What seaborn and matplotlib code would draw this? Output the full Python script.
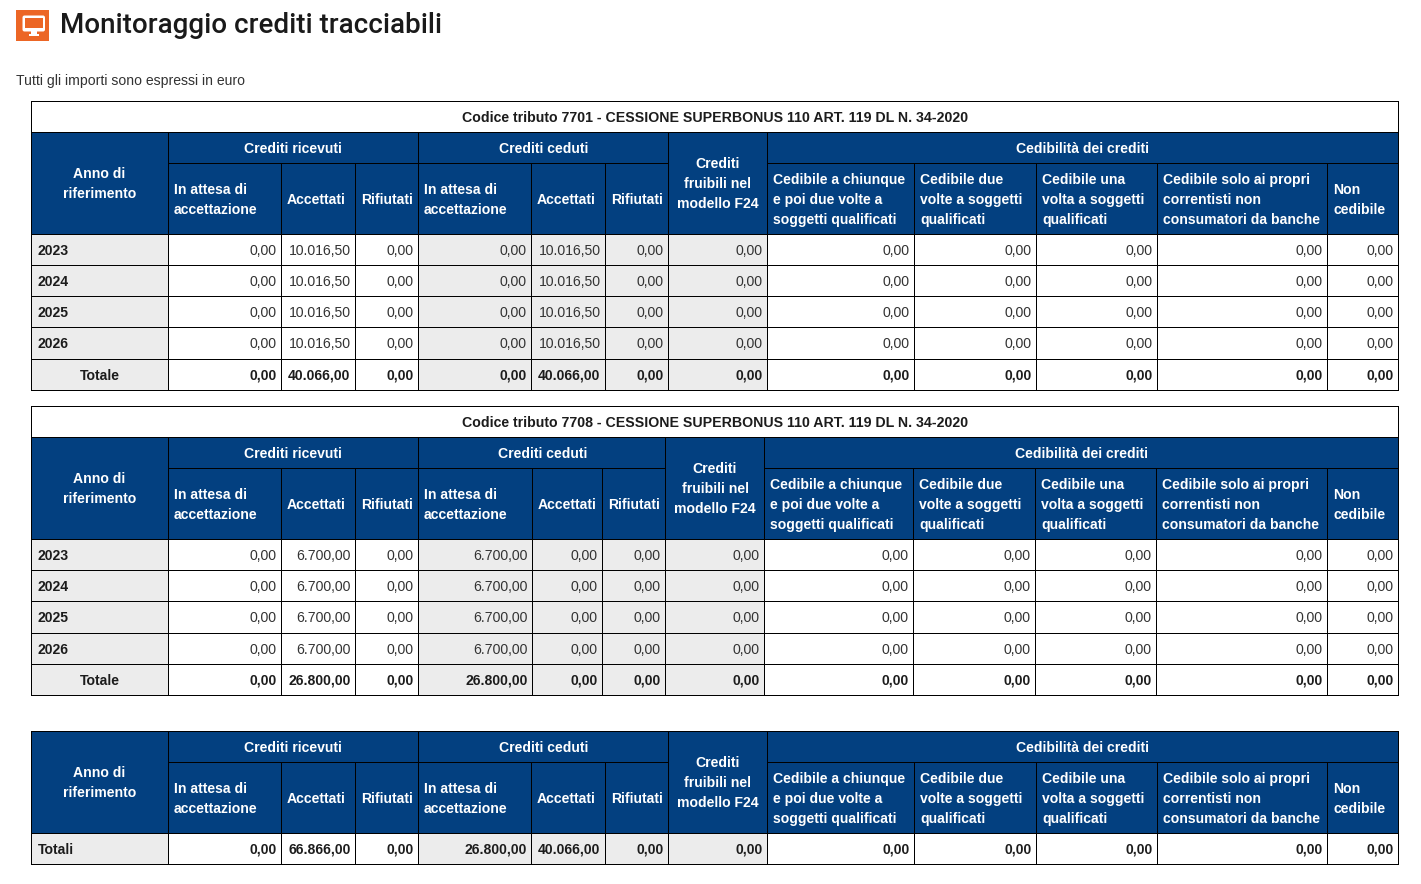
import numpy as np
import matplotlib
matplotlib.use("Agg")
import matplotlib.pyplot as plt
from matplotlib.patches import Rectangle, FancyBboxPatch
import seaborn as sns

W, H = 1421, 884
BLU = "#034080"
GRIGIO = "#ececec"
BIANCO = "#ffffff"
TESTO = "#333333"
BOLD = "#1c1c1c"

# dati
anni = ["2023", "2024", "2025", "2026", "Totale"]
zeri = ["0,00"] * 5

accettati_7701 = ["10.016,50", "10.016,50", "10.016,50", "10.016,50", "40.066,00"]
valori_7701 = [zeri, accettati_7701, zeri, zeri, accettati_7701, zeri, zeri, zeri, zeri, zeri, zeri, zeri]

ricevuti_7708 = ["6.700,00", "6.700,00", "6.700,00", "6.700,00", "26.800,00"]
valori_7708 = [zeri, ricevuti_7708, zeri, ricevuti_7708, zeri, zeri, zeri, zeri, zeri, zeri, zeri, zeri]

totali_etichetta = ["Totali"]
totali_valori = ["0,00", "66.866,00", "0,00", "26.800,00", "40.066,00", "0,00",
                 "0,00", "0,00", "0,00", "0,00", "0,00", "0,00"]

titolo_7701 = "Codice tributo 7701 - CESSIONE SUPERBONUS 110 ART. 119 DL N. 34-2020"
titolo_7708 = "Codice tributo 7708 - CESSIONE SUPERBONUS 110 ART. 119 DL N. 34-2020"

colonne = [
    ["In attesa di", "accettazione"], ["Accettati"], ["Rifiutati"],
    ["In attesa di", "accettazione"], ["Accettati"], ["Rifiutati"],
    None,
    ["Cedibile a chiunque", "e poi due volte a", "soggetti qualificati"],
    ["Cedibile due", "volte a soggetti", "qualificati"],
    ["Cedibile una", "volta a soggetti", "qualificati"],
    ["Cedibile solo ai propri", "correntisti non", "consumatori da banche"],
    ["Non", "cedibile"],
]

# bordi delle colonne in pixel
xs_a = [31, 168, 281, 355, 418, 531, 605, 668, 767, 914, 1036, 1157, 1327, 1398]
xs_b = [31, 168, 281, 355, 418, 532, 602, 665, 764, 913, 1035, 1156, 1327, 1398]
# colonne con sfondo grigio
grigie = [0, 4, 5, 6, 7]

sns.set_theme(style="white")
plt.rcParams["font.family"] = ["Liberation Sans", "DejaVu Sans"]

fig = plt.figure(figsize=(W / 100, H / 100), dpi=100, facecolor="white")


def pixel_axes(x0, y0, x1, y1, **kw):
    return fig.add_axes([x0 / W, 1 - y1 / H, (x1 - x0) / W, (y1 - y0) / H], **kw)


def colonna(x0, x1, y_righe, etichette, colore, allinea="right", grassetto=False):
    # una colonna del corpo tabella: heatmap a una colonna con annotazioni
    n = len(etichette)
    y0, y1 = y_righe[0], y_righe[-1]
    ax = pixel_axes(x0 + 0.5, y0 + 0.5, x1 + 0.5, y1 + 0.5)
    sns.heatmap(np.zeros((n, 1)), cmap=[colore], annot=np.array(etichette).reshape(-1, 1), fmt="",
                cbar=False, xticklabels=False, yticklabels=False, ax=ax,
                annot_kws={"fontsize": 10.1, "color": TESTO})
    w = x1 - x0
    h = (y1 - y0) / n
    for i, t in enumerate(ax.texts):
        t.set_va("baseline")
        # baseline calcolata dalla riga vera, le righe non sono tutte uguali
        meta = (y_righe[i] + y_righe[i + 1]) / 2
        t.set_y((meta + 5.25 - y0 - 0.5) / h)
        if t.get_text() == "Totale":
            t.set_x(0.5)
        elif allinea == "right":
            t.set_ha("right")
            t.set_x(1 - 5 / w)
        else:
            t.set_ha("left")
            t.set_x(6 / w)
        if grassetto or i == n - 1:
            t.set_fontweight("bold")
            t.set_color(BOLD)
    return ax


over = fig.add_axes([0, 0, 1, 1], zorder=10)
over.set_xlim(0, W)
over.set_ylim(H, 0)
over.set_autoscale_on(False)
over.axis("off")
over.patch.set_alpha(0)


def scritta(x, ymid, righe, ha="center", colore="white", peso="bold", size=10.1):
    n = len(righe)
    for i, r in enumerate(righe):
        y = ymid + (i - (n - 1) / 2) * 20 + 5.25
        over.text(x, y, r, ha=ha, va="baseline", color=colore, fontweight=peso, fontsize=size)


def linea(x0, y0, x1, y1):
    over.plot([x0 + 0.25, x1 + 0.25], [y0 + 0.25, y1 + 0.25], color="black", lw=0.72, solid_capstyle="projecting")


def tabella(xs, y_top, y_g1, y_g2, y_righe, etichette, valori, titolo=None, grassetto=False):
    y_body = y_righe[0]
    if titolo:
        scritta((xs[0] + xs[-1]) / 2 + 0.5, (y_top + y_g1) / 2, [titolo], colore=BOLD, size=10.15)
    over.add_patch(Rectangle((xs[0], y_g1), xs[-1] - xs[0], y_body - y_g1, color=BLU, lw=0))

    # corpo
    colonna(xs[0], xs[1], y_righe, etichette, GRIGIO, allinea="left", grassetto=True)
    for j, val in enumerate(valori):
        col = GRIGIO if j + 1 in grigie else BIANCO
        colonna(xs[j + 1], xs[j + 2], y_righe, val, col, grassetto=grassetto)

    # griglia
    for y in y_righe:
        linea(xs[0], y, xs[-1], y)
    linea(xs[0], y_g1, xs[-1], y_g1)
    if titolo:
        linea(xs[0], y_top, xs[-1], y_top)
    linea(xs[1], y_g2, xs[7], y_g2)
    linea(xs[8], y_g2, xs[-1], y_g2)
    for i, x in enumerate(xs):
        y0 = y_g1
        if i in (0, len(xs) - 1) and titolo:
            y0 = y_top
        if i in (2, 3, 5, 6, 9, 10, 11, 12):
            y0 = y_g2
        linea(x, y0, x, y_righe[-1])

    # intestazioni
    ym_g1 = (y_g1 + y_g2) / 2
    ym_g2 = (y_g2 + y_body) / 2
    scritta((xs[0] + xs[1]) / 2, (y_g1 + y_body) / 2, ["Anno di", "riferimento"])
    scritta((xs[1] + xs[4]) / 2, ym_g1, ["Crediti ricevuti"])
    scritta((xs[4] + xs[7]) / 2 + 1, ym_g1, ["Crediti ceduti"])
    scritta((xs[7] + xs[8]) / 2 + 0.5, (y_g1 + y_body) / 2, ["Crediti", "fruibili nel", "modello F24"])
    scritta((xs[8] + xs[-1]) / 2 + 0.5, ym_g1, ["Cedibilità dei crediti"])
    for j, righe in enumerate(colonne):
        if righe is not None:
            scritta(xs[j + 1] + 6, ym_g2, righe, ha="left")


tabella(xs_a, 101, 132, 163, [234, 265, 296, 327, 359, 390], anni, valori_7701, titolo_7701)
tabella(xs_b, 406, 437, 468, [539, 570, 601, 633, 664, 695], anni, valori_7708, titolo_7708)
tabella(xs_a, None, 731, 762, [833, 864], totali_etichetta, [[v] for v in totali_valori], grassetto=True)

# icona e titolo
over.add_patch(Rectangle((16, 10), 33, 31, color="#ec6625", lw=0))
over.add_patch(FancyBboxPatch((22.5, 15.5), 22.5, 16, boxstyle="round,pad=0,rounding_size=2", fc="white", ec="none"))
over.add_patch(Rectangle((24.5, 17.5), 18.5, 10.5, color="#ec6625", lw=0))
over.add_patch(Rectangle((31, 31), 6, 3.5, color="white", lw=0))
over.add_patch(Rectangle((29, 34), 10, 1.5, color="white", lw=0))
over.text(60, 33, "Monitoraggio crediti tracciabili", fontsize=20, color="#1a1a1a", fontweight=500,
          fontfamily=["Roboto", "DejaVu Sans"], va="baseline", ha="left")
over.text(16, 85, "Tutti gli importi sono espressi in euro", fontsize=10.1, color=TESTO, va="baseline", ha="left")

fig.savefig("out.png", dpi=100)
